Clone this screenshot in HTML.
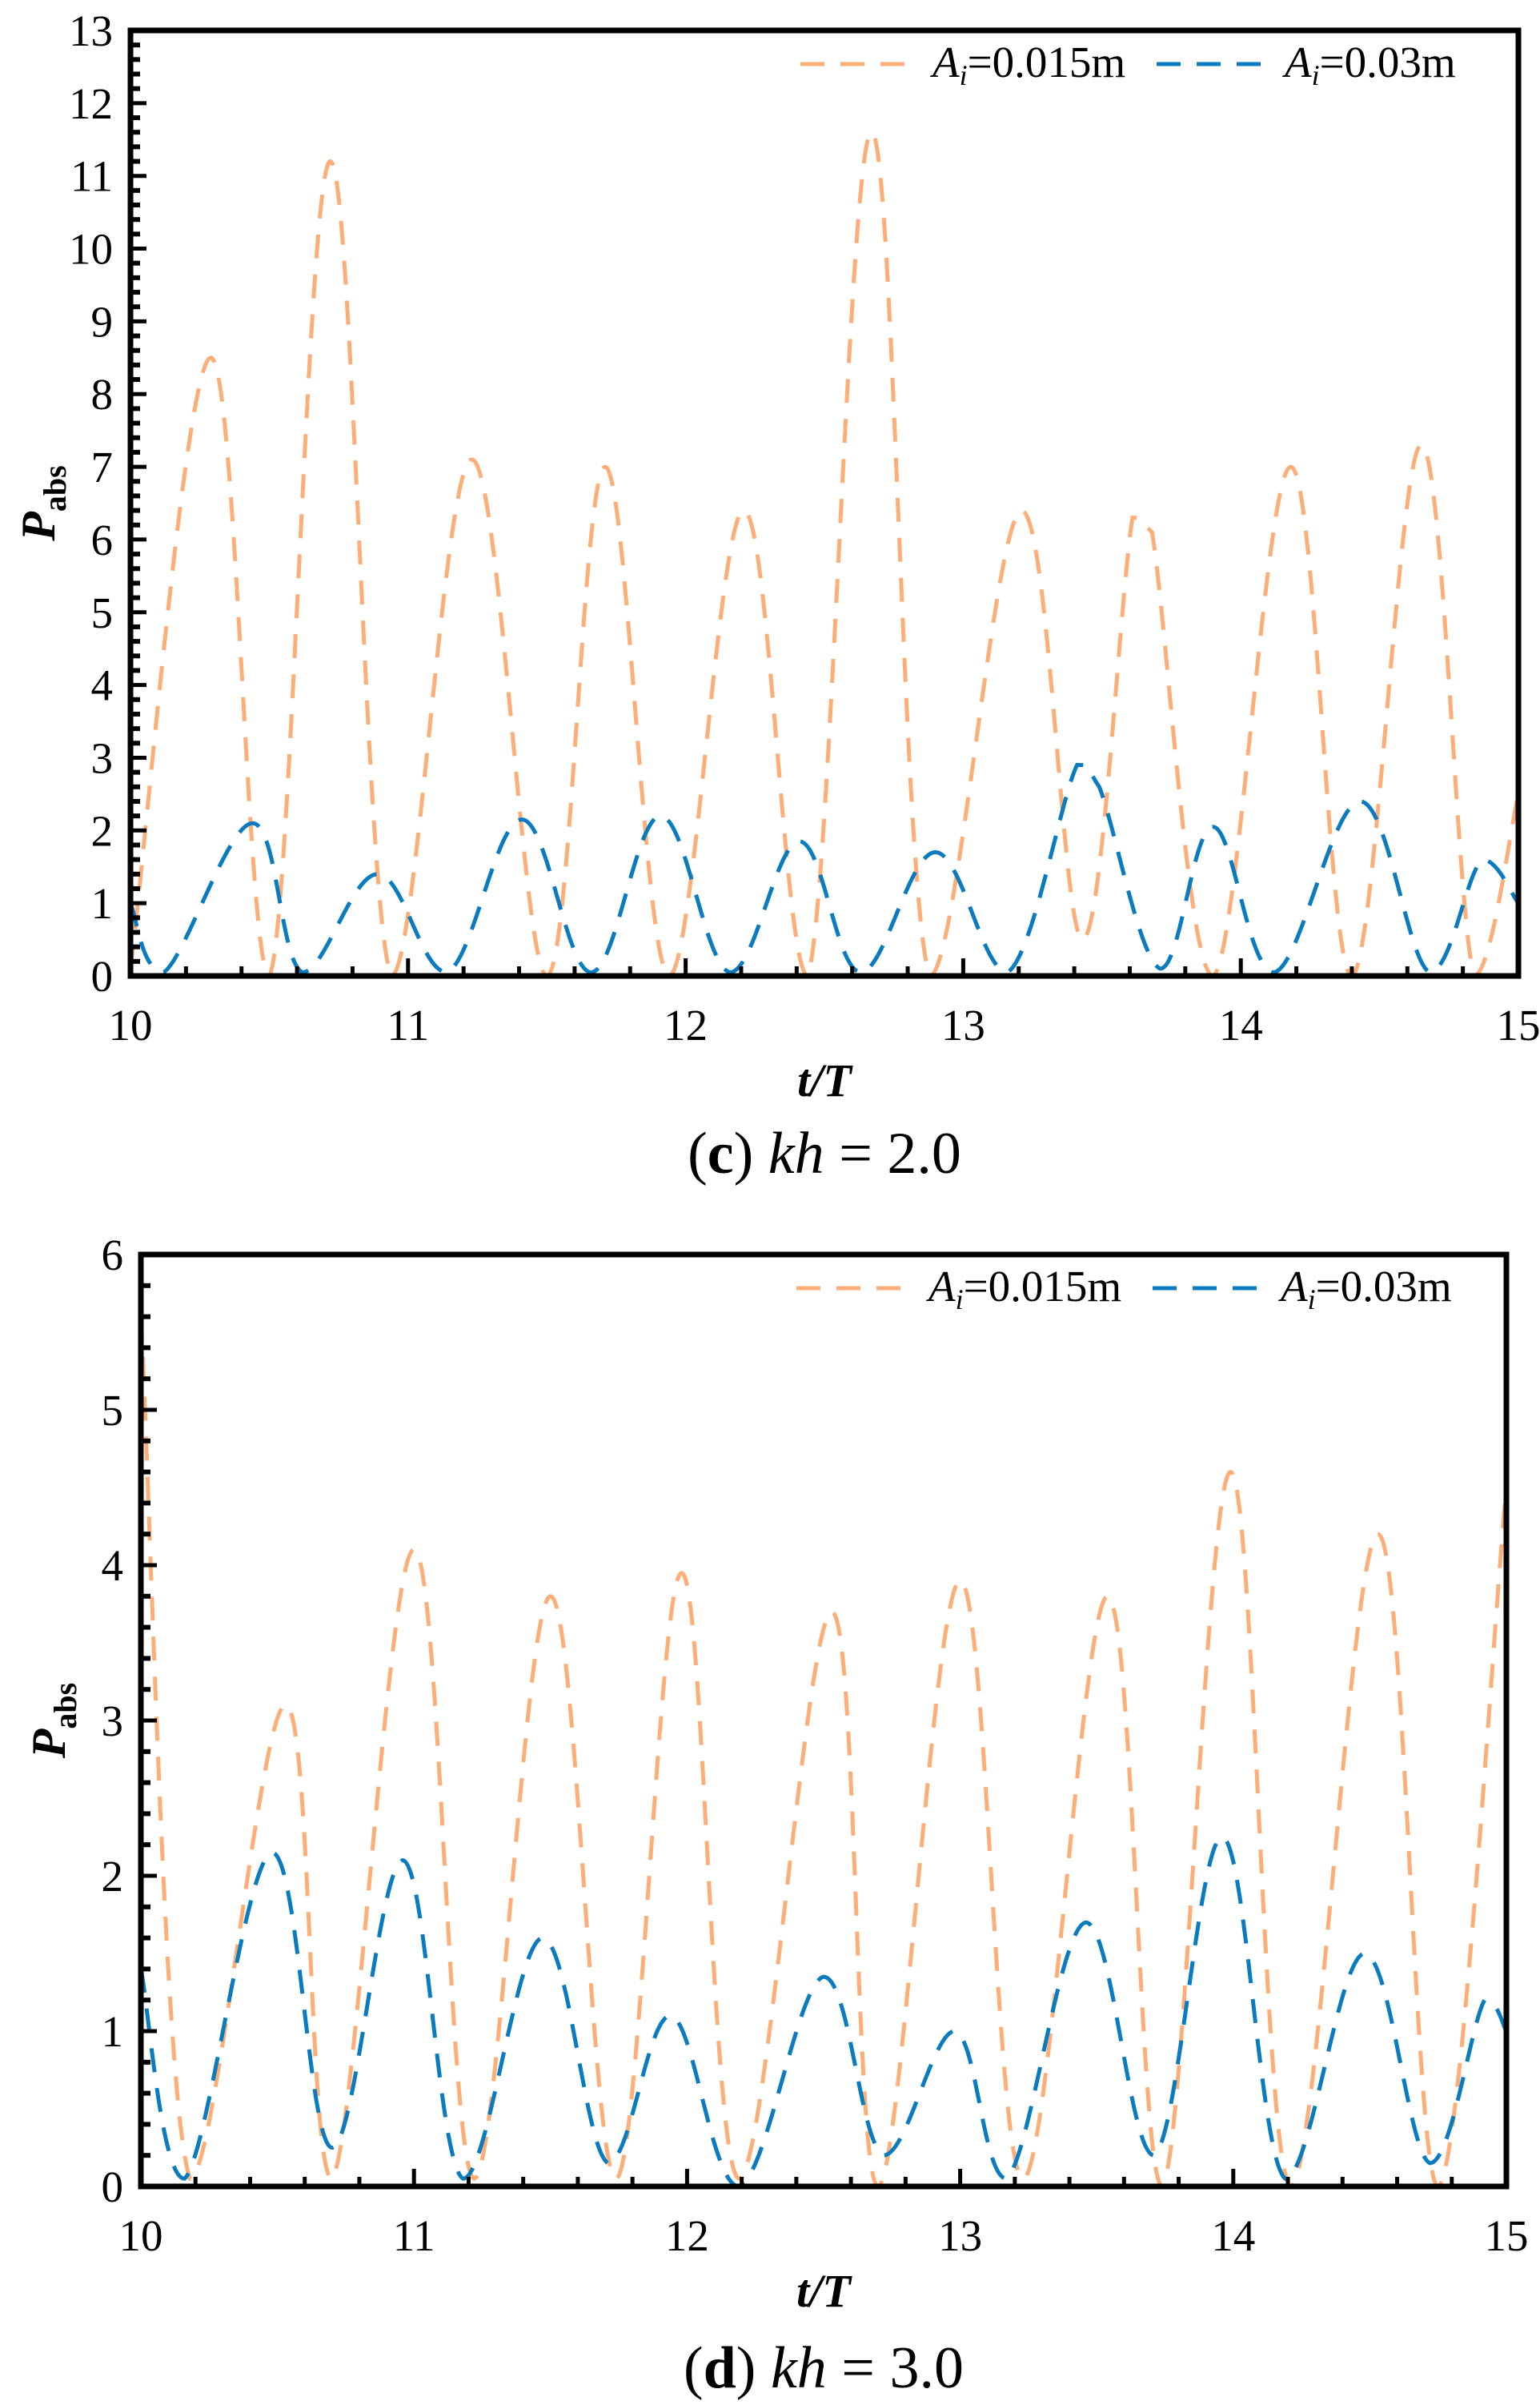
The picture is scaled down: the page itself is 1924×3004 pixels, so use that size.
<!DOCTYPE html>
<html><head><meta charset="utf-8"><style>
html,body{margin:0;padding:0;background:#fff;}
svg{display:block;}
text{font-family:"Liberation Serif",serif;fill:#000;}
</style></head><body>
<svg id="fig" width="1924" height="3004" viewBox="0 0 1924 3004" xmlns="http://www.w3.org/2000/svg"></svg>
<script>
// ---- Chart (c) kh=2.0 data ----
const cT1 = [10.0,10.29,10.5,10.72,10.94,11.23,11.5,11.71,11.94,12.21,12.44,12.67,12.88,13.21,13.43,13.61,13.68,13.9,14.18,14.4,14.65,14.84,15.0];
const cV1 = [0.1,8.5,0.0,11.2,0.0,7.1,0.0,7.0,0.0,6.4,0.0,11.6,0.0,6.4,0.5,6.3,6.1,0.0,7.0,0.0,7.3,0.0,2.5];
const cT2 = [10.0,10.12,10.44,10.62,10.89,11.14,11.41,11.66,11.91,12.16,12.41,12.63,12.9,13.16,13.41,13.49,13.71,13.9,14.12,14.43,14.68,14.87,15.0];
const cV2 = [1.0,0.05,2.1,0.05,1.4,0.05,2.15,0.05,2.2,0.05,1.85,0.05,1.7,0.05,2.9,2.6,0.1,2.05,0.05,2.4,0.05,1.6,1.0];
const cYTicks = [0,1,2,3,4,5,6,7,8,9,10,11,12,13];
const xTicks = [10,11,12,13,14,15];
// ---- Chart (d) kh=3.0 data ----
const dT1 = [10.0,10.18,10.53,10.7,11.0,11.22,11.5,11.74,11.98,12.19,12.53,12.7,13.0,13.23,13.54,13.74,13.99,14.21,14.53,14.75,15.0];
const dV1 = [5.6,0.05,3.1,0.05,4.1,0.05,3.8,0.05,3.95,0.05,3.7,0.0,3.9,0.05,3.8,0.0,4.6,0.0,4.2,0.0,4.5];
const dT2 = [10.0,10.16,10.48,10.7,10.96,11.18,11.47,11.71,11.94,12.19,12.5,12.72,12.98,13.17,13.46,13.71,13.96,14.19,14.48,14.72,14.92,15.0];
const dV2 = [1.4,0.05,2.15,0.25,2.1,0.05,1.6,0.15,1.1,0.0,1.35,0.2,1.0,0.05,1.7,0.2,2.25,0.05,1.5,0.15,1.2,1.0];
const dYTicks = [0,1,2,3,4,5,6];

const NS="http://www.w3.org/2000/svg";
const svg=document.getElementById('fig');
function mk(tag,attrs,parent){const e=document.createElementNS(NS,tag);for(const k in attrs)e.setAttribute(k,attrs[k]);(parent||svg).appendChild(e);return e;}

function pathFrom(ts,vs,sx,sy){
  const pts=ts.map((t,i)=>[sx(t),sy(vs[i])]);
  let d='M'+pts[0][0]+','+pts[0][1];
  for(let i=0;i<pts.length-1;i++){
    const p0=pts[Math.max(0,i-1)],p1=pts[i],p2=pts[i+1],p3=pts[Math.min(pts.length-1,i+2)];
    const k=0.18;
    let c1x=p1[0]+(p2[0]-p0[0])*k,c1y=p1[1]+(p2[1]-p0[1])*k;
    let c2x=p2[0]-(p3[0]-p1[0])*k,c2y=p2[1]-(p3[1]-p1[1])*k;
    const lo=Math.min(p1[1],p2[1]),hi=Math.max(p1[1],p2[1]);
    c1y=Math.max(lo,Math.min(hi,c1y));c2y=Math.max(lo,Math.min(hi,c2y));
    d+=' C'+c1x+','+c1y+' '+c2x+','+c2y+' '+p2[0]+','+p2[1];
  }
  return d;
}

function chart(o){
  const g=mk('g',{});
  
  
  const sx=t=>o.x0+(t-10)/5*(o.x1-o.x0);
  const sy=v=>o.y0-(v/o.ymax)*(o.y0-o.y1);
  const s1=mk('path',{d:pathFrom(o.t1,o.v1,sx,sy),fill:'none',stroke:'#fdae78','stroke-width':5,'stroke-dasharray':'30 20'},g);
  
  
  const s2=mk('path',{d:pathFrom(o.t2,o.v2,sx,sy),fill:'none',stroke:'#0a7bbf','stroke-width':5,'stroke-dasharray':'30 20'},g);
  
  
  const fr=mk('rect',{x:o.x0,y:o.y1,width:o.x1-o.x0,height:o.y0-o.y1,fill:'none',stroke:'#000','stroke-width':7},g);
  
  
  for(let v=0;v<=o.ymax+1e-6;v+=0.2){
    const major=Math.abs(v-Math.round(v))<1e-6;
    const y=sy(v);
    mk('line',{x1:o.x0,x2:o.x0+(major?20:12),y1:y,y2:y,stroke:'#000','stroke-width':major?5:6},g);
  }
  o.yt.forEach(v=>{
    const t=mk('text',{x:o.x0-22,y:sy(v)+19,'text-anchor':'end','font-size':55},g);
    t.textContent=v;
    
    
  });
  for(let k=0;k<=25;k++){
    const tv=10+k*0.2;const major=k%5===0;const x=sx(tv);
    mk('line',{x1:x,x2:x,y1:o.y0,y2:o.y0-(major?22:12),stroke:'#000','stroke-width':5},g);
  }
  xTicks.forEach(v=>{
    const t=mk('text',{x:sx(v),y:o.y0+80,'text-anchor':'middle','font-size':55},g);
    t.textContent=v;
    
    
  });
  const xt=mk('text',{x:(o.x0+o.x1)/2,y:o.y0+150,'text-anchor':'middle','font-size':58,'font-weight':'bold','font-style':'italic'},g);
  xt.textContent='t/T';
  
  
  const yt=mk('text',{transform:'translate('+(o.x0-95)+','+((o.y0+o.y1)/2)+') rotate(-90)','text-anchor':'middle','font-size':60,'font-weight':'bold'},g);
  yt.innerHTML='<tspan font-style="italic">P</tspan><tspan font-size="40" dy="14">abs</tspan>';
  
  
  const ly=o.y1+58;
  const lg=mk('g',{},g);
  
  
  mk('line',{x1:o.lx,x2:o.lx+145,y1:ly-16,y2:ly-16,stroke:'#fdae78','stroke-width':5,'stroke-dasharray':'30 20'},lg);
  const l1=mk('text',{x:o.lx+165,y:ly,'font-size':55},lg);
  l1.innerHTML='<tspan font-style="italic">A</tspan><tspan font-style="italic" font-size="36" dy="10">i</tspan><tspan dy="-10">=0.015m</tspan>';
  
  
  mk('line',{x1:o.lx+445,x2:o.lx+595,y1:ly-16,y2:ly-16,stroke:'#0a7bbf','stroke-width':5,'stroke-dasharray':'30 20'},lg);
  const l2=mk('text',{x:o.lx+605,y:ly,'font-size':55},lg);
  l2.innerHTML='<tspan font-style="italic">A</tspan><tspan font-style="italic" font-size="36" dy="10">i</tspan><tspan dy="-10">=0.03m</tspan>';
  
  
  const cap=mk('text',{x:(o.x0+o.x1)/2,y:o.capY,'text-anchor':'middle','font-size':74},g);
  cap.innerHTML='(<tspan font-weight="bold">'+o.letter+'</tspan>) <tspan font-style="italic">kh</tspan> = '+o.kh;
  
  
}

chart({name:'chart-kh-2',x0:163,x1:1897,y0:1219,y1:38,ymax:13,t1:cT1,v1:cV1,t2:cT2,v2:cV2,yt:cYTicks,lx:1000,capY:1465,letter:'c',kh:'2.0'});
chart({name:'chart-kh-3',x0:176,x1:1882,y0:2731,y1:1567,ymax:6,t1:dT1,v1:dV1,t2:dT2,v2:dV2,yt:dYTicks,lx:995,capY:2982,letter:'d',kh:'3.0'});
</script>
</body></html>
